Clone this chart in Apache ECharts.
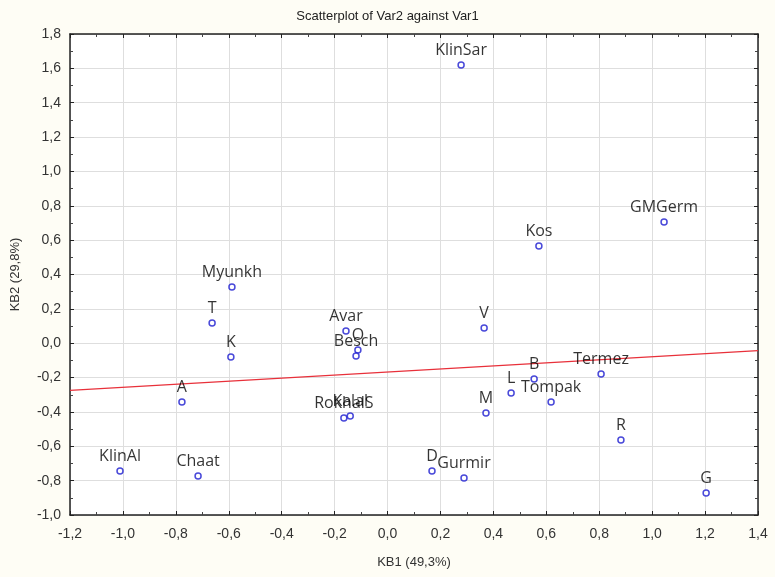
<!DOCTYPE html>
<html>
<head>
<meta charset="utf-8">
<script src="https://cdn.jsdelivr.net/npm/echarts@6/dist/echarts.min.js"></script>
<style>
  html, body { margin: 0; padding: 0; background: #fefdf5; }
  #chart { width: 775px; height: 577px; }
</style>
</head>
<body>
<div id="chart"></div>
<script>
// site names and their scores on KB1 / KB2
var names = ['KlinSar', 'GMGerm', 'Kos', 'Myunkh', 'T', 'K', 'Avar', 'O', 'Besch',
  'RokhalS', 'Kalal', 'A', 'KlinAl', 'Chaat', 'D', 'Gurmir', 'V', 'M', 'L', 'B',
  'Tompak', 'Termez', 'R', 'G'];
var kb1 = [0.278, 1.045, 0.572, -0.588, -0.663, -0.592, -0.157, -0.112, -0.119,
  -0.165, -0.141, -0.777, -1.011, -0.716, 0.168, 0.289, 0.365, 0.372, 0.467, 0.554,
  0.618, 0.807, 0.882, 1.204];
var kb2 = [1.62, 0.706, 0.566, 0.327, 0.118, -0.080, 0.071, -0.039, -0.074,
  -0.436, -0.424, -0.342, -0.744, -0.773, -0.744, -0.784, 0.089, -0.406, -0.290, -0.208,
  -0.342, -0.179, -0.563, -0.872];

var xTicks = [-1.2, 1.4];
var yTicks = [-1.0, 1.8];

// least squares fit of KB2 on KB1
function fit(xs, ys) {
  var n = xs.length, sx = 0, sy = 0, sxx = 0, sxy = 0;
  for (var i = 0; i < n; i++) {
    sx += xs[i]; sy += ys[i];
    sxx += xs[i] * xs[i]; sxy += xs[i] * ys[i];
  }
  var b = (n * sxy - sx * sy) / (n * sxx - sx * sx);
  var a = (sy - b * sx) / n;
  return { a: a, b: b };
}
var reg = fit(kb1, kb2);
var regLine = xTicks.map(function (x) { return [x, reg.a + reg.b * x]; });

var points = names.map(function (n, i) { return { name: n, value: [kb1[i], kb2[i]] }; });

function fmt(v) { return v.toFixed(1).replace('.', ','); }

var chart = echarts.init(document.getElementById('chart'));

var axisCommon = {
  type: 'value',
  interval: 0.2,
  axisLine: { show: true, onZero: false, lineStyle: { color: '#222', width: 1.5 } },
  axisTick: { show: true, inside: true, length: 4, lineStyle: { color: '#222' } },
  minorTick: { show: true, splitNumber: 2, length: 3, lineStyle: { color: '#444' } }
};

var option = {
  backgroundColor: '#fefdf5',
  animation: false,
  title: {
    text: 'Scatterplot of Var2 against Var1',
    left: 'center',
    top: 5,
    textStyle: { fontFamily: 'Liberation Sans', fontSize: 13, fontWeight: 'normal', color: '#222' }
  },
  grid: {
    left: 70, right: 17, top: 34, bottom: 62,
    show: true, backgroundColor: '#ffffff', borderWidth: 0
  },
  xAxis: [
    Object.assign({}, axisCommon, {
      min: xTicks[0], max: xTicks[1], position: 'bottom',
      name: 'KB1 (49,3%)', nameLocation: 'middle', nameGap: 41,
      nameTextStyle: { fontFamily: 'Liberation Sans', fontSize: 13, color: '#333' },
      axisLabel: { formatter: fmt, fontFamily: 'Liberation Sans', fontSize: 14, color: '#333', margin: 12 },
      splitLine: { show: true, lineStyle: { color: '#dedede' } }
    }),
    Object.assign({}, axisCommon, {
      min: xTicks[0], max: xTicks[1], position: 'top',
      axisLabel: { show: false }, splitLine: { show: false }
    })
  ],
  yAxis: [
    Object.assign({}, axisCommon, {
      min: yTicks[0], max: yTicks[1], position: 'left',
      name: 'KB2 (29,8%)', nameLocation: 'middle', nameGap: 48, nameRotate: 90,
      nameTextStyle: { fontFamily: 'Liberation Sans', fontSize: 13, color: '#333' },
      axisLabel: { formatter: fmt, fontFamily: 'Liberation Sans', fontSize: 14, color: '#333', margin: 9 },
      splitLine: { show: true, lineStyle: { color: '#dedede' } }
    }),
    Object.assign({}, axisCommon, {
      min: yTicks[0], max: yTicks[1], position: 'right',
      axisLabel: { show: false }, splitLine: { show: false }
    })
  ],
  series: [
    {
      type: 'line',
      data: regLine,
      symbol: 'none',
      silent: true,
      lineStyle: { color: '#e8303a', width: 1.3 },
      z: 2
    },
    {
      type: 'scatter',
      data: points,
      symbol: 'circle',
      symbolSize: 6,
      itemStyle: { color: '#ffffff', borderColor: '#1c1cd0', borderWidth: 1.5 },
      label: {
        show: true,
        position: 'top',
        distance: 3,
        formatter: '{b}',
        fontFamily: 'Open Sans',
        fontSize: 16,
        color: '#000'
      },
      labelLayout: { hideOverlap: false },
      z: 3
    }
  ]
};

chart.setOption(option);
</script>
</body>
</html>
